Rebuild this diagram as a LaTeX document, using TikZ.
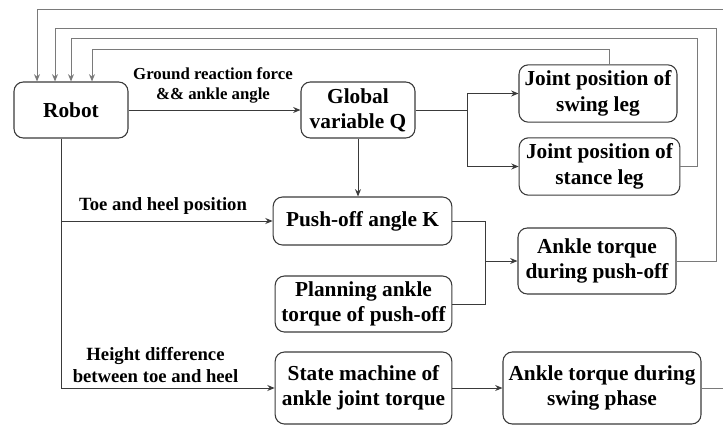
\documentclass[tikz,border=0pt]{standalone}
\usepackage{fontspec}
\setmainfont{Liberation Serif}
\usetikzlibrary{arrows.meta}
\definecolor{edge}{HTML}{3A3A3A}
\definecolor{fbcol}{HTML}{7A7A7A}
\tikzset{
  box/.style={draw=edge, line width=0.8pt, rounded corners=7pt, align=center, inner sep=0pt,
    font=\fontsize{16}{19}\selectfont\bfseries, text=black},
  lab/.style={align=center, inner sep=0pt, font=\fontsize{14}{16.5}\selectfont\bfseries, text=black},
  conn/.style={draw=edge, line width=0.75pt},
  arr/.style={conn, -{Stealth[length=5.5pt,width=4.5pt]}},
  fb/.style={draw=fbcol, line width=0.75pt, -{Stealth[length=5.5pt,width=4.5pt]}, fill=none},
}
\begin{document}
\begin{tikzpicture}[x=0.75pt,y=-0.75pt]
\useasboundingbox (0,0) rectangle (723,425);

% boxes
\node[box, minimum width=85.5pt, minimum height=42pt] (robot) at (71,110) {Robot};
\node[box, minimum width=85.5pt, minimum height=42pt] (q) at (358,110) {Global\\variable Q};
\node[box, minimum width=118.5pt, minimum height=43pt] (swing) at (598,93.5) {Joint position of\\swing leg};
\node[box, minimum width=120.5pt, minimum height=43pt] (stance) at (599.5,166.5) {Joint position of\\stance leg};
\node[box, minimum width=134pt, minimum height=36pt] (k) at (362.5,221) {Push-off angle K};
\node[box, minimum width=132.5pt, minimum height=42pt] (plan) at (363.5,304) {Planning ankle\\torque of push-off};
\node[box, minimum width=118.5pt, minimum height=49.5pt] (ptq) at (597,261) {Ankle torque\\during push-off};
\node[box, minimum width=132.5pt, minimum height=54pt] (state) at (363.5,388) {State machine of\\ankle joint torque};
\node[box, minimum width=148.5pt, minimum height=54pt] (phase) at (602,388) {Ankle torque during\\swing phase};

% labels
\node[lab, font=\fontsize{12.6}{15}\selectfont\bfseries] (l1) at (213,85) {Ground reaction force\\\&\& ankle angle};
\node[lab] (l2) at (163,206) {Toe and heel position};
\node[lab] (l3) at (155.5,365) {Height difference\\between toe and heel};

% junctions
\coordinate (jq) at (467,110);
\coordinate (jk) at (485,261);
\coordinate (rd) at (61,389);

% main connectors
\draw[arr] (robot.east) -- (q.west);
\draw[conn] (q.east) -- (jq);
\draw[arr] (jq) |- (swing.west);
\draw[arr] (jq) |- (stance.west);
\draw[arr] (q.south) -- (q.south |- k.north);
\draw[arr] (robot.south -| rd) |- (k.west);
\draw[arr] (robot.south -| rd) |- (state.west);
\draw[conn] (k.east) -| (jk);
\draw[conn] (plan.east) -| (jk);
\draw[arr] (jk) -- (ptq.west);
\draw[arr] (state.east) -- (phase.west);

% feedback
\coordinate (c1) at (740,9);   \coordinate (t1) at (37,9);
\coordinate (c2) at (716,28);  \coordinate (t2) at (55,28);
\coordinate (c3) at (697,38);  \coordinate (t3) at (71,38);
\coordinate (c4) at (609,49);  \coordinate (t4) at (92,49);
\draw[fb] (phase.east) -| (c1) -- (t1) -- (t1 |- robot.north);
\draw[fb] (ptq.east) -| (c2) -- (t2) -- (t2 |- robot.north);
\draw[fb] (stance.east) -| (c3) -- (t3) -- (t3 |- robot.north);
\draw[fb] (swing.north -| c4) -- (c4) -- (t4) -- (t4 |- robot.north);
\end{tikzpicture}
\end{document}
